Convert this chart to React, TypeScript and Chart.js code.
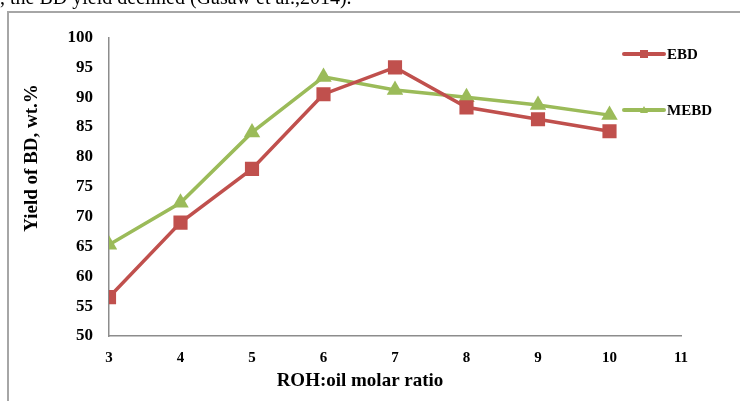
import React, { useEffect, useRef } from 'react';
import { Chart, registerables } from 'chart.js';

Chart.register(...registerables);

const ratios = [3, 4, 5, 6, 7, 8, 9, 10];
const ebdValues = [56.5, 69, 78, 90.5, 95, 88.3, 86.3, 84.3];
const mebdValues = [65.3, 72.3, 84.1, 93.4, 91.2, 90, 88.7, 87];
const seriesNames = ['EBD', 'MEBD'];
const seriesColors = ['#C0504D', '#9BBB59'];
const xMin = 3;
const xMax = 11;
const yMin = 50;
const yMax = 100;
const yStep = 5;
const xTitle = 'ROH:oil molar ratio';
const yTitle = 'Yield of BD, wt.%';
const captionText = ', the BD yield declined (Gasaw et al.,2014).';

const SERIF = '"Liberation Serif", "Times New Roman", serif';

const decorPlugin = {
  id: 'decor',
  afterDraw(chart: any) {
    const ctx = chart.ctx as CanvasRenderingContext2D;
    ctx.save();
    // frame
    ctx.strokeStyle = '#a6a6a6';
    ctx.lineWidth = 2;
    ctx.beginPath();
    ctx.moveTo(8, 401);
    ctx.lineTo(8, 12);
    ctx.lineTo(740, 12);
    ctx.stroke();

    // caption text (cut off at top)
    ctx.fillStyle = '#000';
    ctx.font = '20px ' + SERIF;
    ctx.textAlign = 'left';
    ctx.textBaseline = 'alphabetic';
    ctx.fillText(captionText, 0, 4);

    // axis titles
    ctx.font = 'bold 19px ' + SERIF;
    ctx.textAlign = 'center';
    ctx.textBaseline = 'middle';
    ctx.fillText(xTitle, 360, 381);
    ctx.save();
    ctx.translate(32, 158);
    ctx.rotate(-Math.PI / 2);
    ctx.fillText(yTitle, 0, 0);
    ctx.restore();

    // legend
    const legendY = [54, 110];
    seriesNames.forEach((name, i) => {
      const y = legendY[i];
      const c = seriesColors[i];
      ctx.strokeStyle = c;
      ctx.fillStyle = c;
      ctx.lineWidth = 4;
      ctx.lineCap = 'round';
      ctx.beginPath();
      ctx.moveTo(624, y);
      ctx.lineTo(664, y);
      ctx.stroke();
      if (i === 0) {
        ctx.fillRect(640, y - 4, 8, 8);
      } else {
        ctx.beginPath();
        ctx.moveTo(644, y - 4);
        ctx.lineTo(648, y + 3);
        ctx.lineTo(640, y + 3);
        ctx.closePath();
        ctx.fill();
      }
      ctx.fillStyle = '#000';
      ctx.font = 'bold 15px ' + SERIF;
      ctx.textAlign = 'left';
      ctx.textBaseline = 'middle';
      ctx.fillText(name, 667, y + 1);
    });
    ctx.restore();
  },
};

export default function App() {
  const canvasRef = useRef<HTMLCanvasElement | null>(null);

  useEffect(() => {
    const canvas = canvasRef.current;
    if (!canvas) return;
    const chart = new Chart(canvas, {
      type: 'line',
      data: {
        datasets: [
          {
            label: seriesNames[0],
            data: ratios.map((x, i) => ({ x, y: ebdValues[i] })),
            borderColor: seriesColors[0],
            backgroundColor: seriesColors[0],
            borderWidth: 3.5,
            pointStyle: 'rect',
            pointRadius: 10,
            pointBorderWidth: 0,
            tension: 0,
          },
          {
            label: seriesNames[1],
            data: ratios.map((x, i) => ({ x, y: mebdValues[i] })),
            borderColor: seriesColors[1],
            backgroundColor: seriesColors[1],
            borderWidth: 3.5,
            pointStyle: 'triangle',
            pointRadius: 9.5,
            pointBorderWidth: 0,
            tension: 0,
          },
        ],
      },
      options: {
        responsive: false,
        animation: false,
        devicePixelRatio: 1,
        layout: { padding: { top: 37.5, right: 59, left: 0, bottom: 0 } },
        plugins: {
          legend: { display: false },
          tooltip: { enabled: false },
          title: { display: false },
        },
        scales: {
          x: {
            type: 'linear',
            min: xMin,
            max: xMax,
            ticks: {
              stepSize: 1,
              color: '#000',
              padding: 13,
              font: { family: SERIF, size: 15, weight: 'bold' },
            },
            grid: { display: false, drawTicks: false },
            border: { display: true, color: '#8c8c8c', width: 1.5 },
            afterFit(scale: any) {
              scale.height = 65;
            },
          },
          y: {
            type: 'linear',
            min: yMin,
            max: yMax,
            ticks: {
              stepSize: yStep,
              color: '#000',
              padding: 16,
              font: { family: SERIF, size: 17, weight: 'bold' },
            },
            grid: { display: false, drawTicks: false },
            border: { display: true, color: '#8c8c8c', width: 1.5 },
            afterFit(scale: any) {
              scale.width = 109;
            },
          },
        },
      },
      plugins: [decorPlugin],
    } as any);
    return () => chart.destroy();
  }, []);

  return (
    <div style={{ position: 'absolute', left: 0, top: 0, width: 740, height: 401, background: '#fff' }}>
      <canvas ref={canvasRef} width={740} height={401} style={{ display: 'block' }} />
    </div>
  );
}
